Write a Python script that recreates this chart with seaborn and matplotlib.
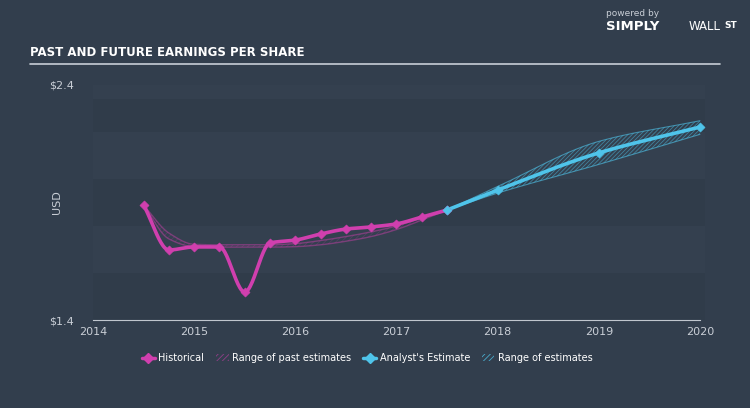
import numpy as np
import pandas as pd
import matplotlib
matplotlib.use("Agg")
import matplotlib.pyplot as plt
import seaborn as sns
from matplotlib.lines import Line2D
from matplotlib.patches import Patch

# ---- data ----
hist_x = [2014.5, 2014.75, 2015.0, 2015.25, 2015.5, 2015.75, 2016.0, 2016.25,
          2016.5, 2016.75, 2017.0, 2017.25, 2017.5]
hist_y = [1.889, 1.698, 1.711, 1.711, 1.519, 1.728, 1.740, 1.766,
          1.787, 1.796, 1.809, 1.838, 1.868]
past_low = [1.889, 1.745, 1.712, 1.710, 1.710, 1.710, 1.712, 1.720,
            1.735, 1.755, 1.785, 1.825, 1.868]
past_high = [1.889, 1.770, 1.722, 1.720, 1.720, 1.720, 1.725, 1.738,
             1.755, 1.775, 1.800, 1.835, 1.868]
est_x = [2017.5, 2018.0, 2019.0, 2020.0]
est_y = [1.868, 1.953, 2.111, 2.221]
est_low = [1.868, 1.940, 2.062, 2.190]
est_high = [1.868, 1.968, 2.160, 2.248]
x_ticks = [2014, 2015, 2016, 2017, 2018, 2019, 2020]
y_ticks = [1.4, 2.4]
y_ticklabels = ["$1.4", "$2.4"]

MAG = "#d03fae"
CYAN = "#4fc4ea"
BG = "#323e4d"
TXT = "#c9ced6"


def monotone(x, y, n=300):
    x = np.asarray(x, float); y = np.asarray(y, float)
    h = np.diff(x); d = np.diff(y) / h
    m = np.zeros_like(y)
    m[0], m[-1] = d[0], d[-1]
    for i in range(1, len(x) - 1):
        if d[i - 1] * d[i] <= 0:
            m[i] = 0
        else:
            w1 = 2 * h[i] + h[i - 1]; w2 = h[i] + 2 * h[i - 1]
            m[i] = (w1 + w2) / (w1 / d[i - 1] + w2 / d[i])
    xs = np.linspace(x[0], x[-1], n)
    idx = np.clip(np.searchsorted(x, xs) - 1, 0, len(x) - 2)
    t = (xs - x[idx]) / h[idx]
    h00 = 2 * t**3 - 3 * t**2 + 1; h10 = t**3 - 2 * t**2 + t
    h01 = -2 * t**3 + 3 * t**2; h11 = t**3 - t**2
    ys = h00 * y[idx] + h10 * h[idx] * m[idx] + h01 * y[idx + 1] + h11 * h[idx] * m[idx + 1]
    return xs, ys


sns.set_style("dark")
plt.rcParams["font.family"] = ["DejaVu Sans"]
plt.rcParams["hatch.linewidth"] = 0.6
fig = plt.figure(figsize=(7.5, 4.08), dpi=100, facecolor=BG)
ax = fig.add_axes([93 / 750, 1 - 320 / 408, 612 / 750, 235 / 408])
ax.set_facecolor(BG)

# background bands
ax.axvspan(2014, 2020.05, color="#34404f", zorder=0, lw=0)
for lo, hi in [(1.4, 1.6), (1.8, 2.0), (2.2, 2.34)]:
    ax.axhspan(lo, hi, color="#303c4a", zorder=0.5, lw=0)

# past range
xs, lo_s = monotone(hist_x, past_low)
_, hi_s = monotone(hist_x, past_high)
ax.fill_between(xs, lo_s, hi_s, facecolor="none", edgecolor=MAG, alpha=0.2,
                hatch="//////", lw=0, zorder=2)
sns.lineplot(x=xs, y=lo_s, ax=ax, color=MAG, alpha=0.45, lw=1, zorder=2)
sns.lineplot(x=xs, y=hi_s, ax=ax, color=MAG, alpha=0.45, lw=1, zorder=2)

# estimates range
xe, elo = monotone(est_x, est_low)
_, ehi = monotone(est_x, est_high)
ax.fill_between(xe, elo, ehi, facecolor="none", edgecolor=CYAN, alpha=0.5,
                hatch="////////", lw=0, zorder=2)
sns.lineplot(x=xe, y=elo, ax=ax, color=CYAN, alpha=0.6, lw=0.8, zorder=2)
sns.lineplot(x=xe, y=ehi, ax=ax, color=CYAN, alpha=0.6, lw=0.8, zorder=2)

# historical line
hx, hy = monotone(hist_x, hist_y)
sns.lineplot(x=hx, y=hy, ax=ax, color=MAG, lw=2.6, zorder=4)
sns.scatterplot(x=hist_x, y=hist_y, ax=ax, color=MAG, marker="D", s=22,
                edgecolor=MAG, zorder=5)

# estimate line
ex, ey = monotone(est_x, est_y)
sns.lineplot(x=ex, y=ey, ax=ax, color=CYAN, lw=2.6, zorder=4)
sns.scatterplot(x=est_x, y=est_y, ax=ax, color=CYAN, marker="D", s=22,
                edgecolor=CYAN, zorder=5)

ax.set_xlim(2014, 2020.05)
ax.set_ylim(1.4, 2.4)
ax.set_xticks(x_ticks)
ax.set_xticklabels([str(v) for v in x_ticks], color=TXT, fontsize=8)
ax.set_yticks(y_ticks)
ax.set_yticklabels(y_ticklabels, color=TXT, fontsize=8)
ax.tick_params(axis="x", length=4, color="#c0c6ce", width=0.8, pad=3, direction="inout")
ax.tick_params(axis="y", length=0, pad=14)
ax.grid(False)
for s in ["top", "right", "left"]:
    ax.spines[s].set_visible(False)
ax.spines["bottom"].set_color("#c0c6ce")
ax.spines["bottom"].set_linewidth(0.8)
ax.spines["bottom"].set_bounds(2014, 2020)
ax.set_ylabel("USD", color=TXT, fontsize=8, labelpad=12)
ax.yaxis.set_label_coords(-0.05, 0.5)

# title
fig.text(30 / 750, 1 - 52 / 408, "PAST AND FUTURE EARNINGS PER SHARE", color="white",
         fontsize=8.5, fontweight="bold", va="center", ha="left",
         family=["Liberation Sans Narrow", "DejaVu Sans"])
fig.add_artist(Line2D([30 / 750, 720 / 750], [1 - 64 / 408, 1 - 64 / 408],
                      color="#c8ced6", lw=1.2))

# logo
fig.text(606 / 750, 1 - 14 / 408, "powered by", color="#c9ced6", fontsize=6.5,
         ha="left", va="center")
fig.text(606 / 750, 1 - 27 / 408, "SIMPLY", color="white", fontsize=9.5,
         fontweight="bold", ha="left", va="center")
fig.text(689 / 750, 1 - 27 / 408, "WALL", color="white", fontsize=8.5,
         ha="left", va="center")
fig.text(724 / 750, 1 - 26 / 408, "ST", color="white", fontsize=6.5,
         fontweight="bold", ha="left", va="center")

# legend
handles = [
    Line2D([0], [0], color=MAG, lw=2.5, marker="D", markersize=5),
    Patch(facecolor="none", edgecolor=MAG, hatch="//////", lw=0, alpha=0.6),
    Line2D([0], [0], color=CYAN, lw=2.5, marker="D", markersize=5),
    Patch(facecolor="none", edgecolor=CYAN, hatch="//////", lw=0, alpha=0.8),
]
labels = ["Historical", "Range of past estimates", "Analyst's Estimate", "Range of estimates"]
leg = fig.legend(handles, labels, loc="center", bbox_to_anchor=(0.49, 1 - 358 / 408),
                 ncol=4, frameon=False, fontsize=7, handlelength=1.3,
                 handletextpad=0.4, columnspacing=1.2, labelcolor="white")

fig.savefig("out.png", dpi=100, facecolor=BG)
